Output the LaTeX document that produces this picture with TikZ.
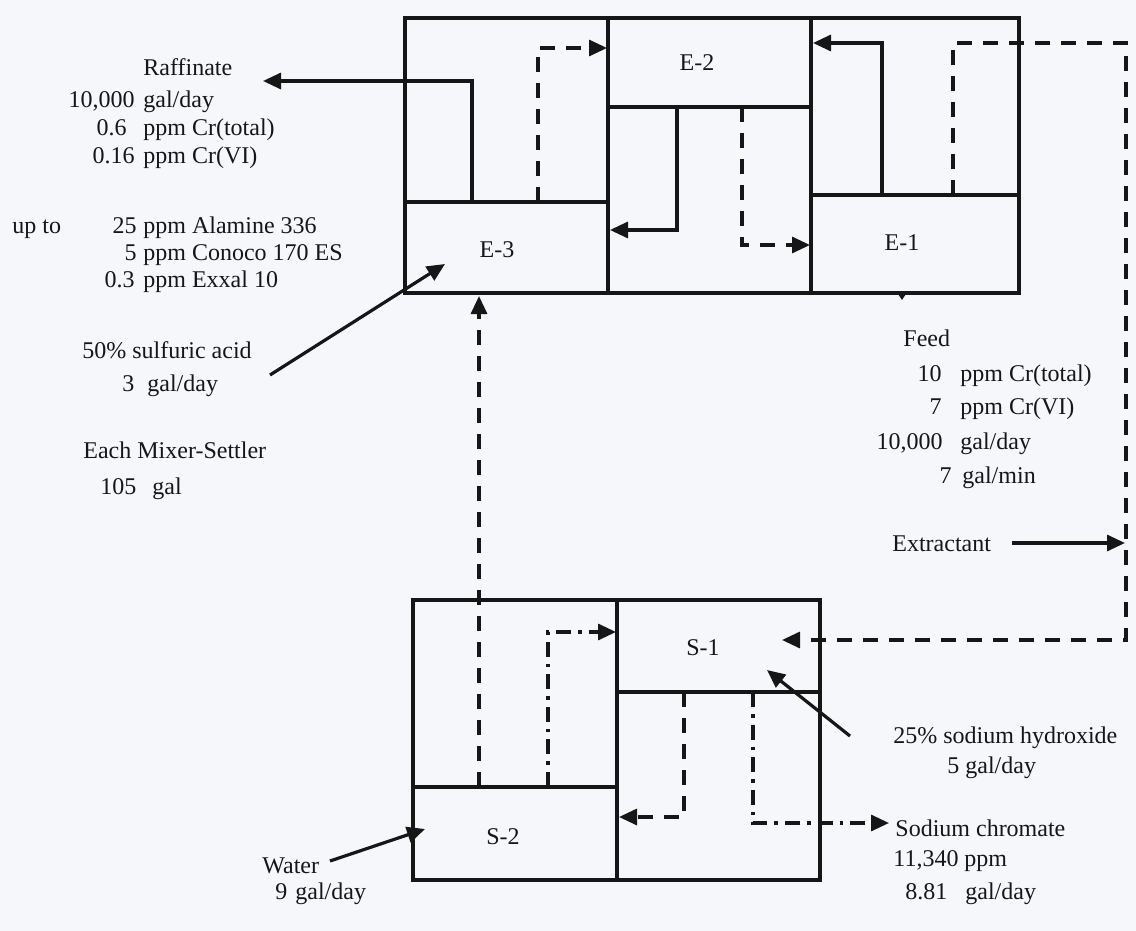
\documentclass[tikz,border=0pt]{standalone}
\usepackage{fontspec}
\setmainfont{Liberation Serif}
\usetikzlibrary{arrows.meta}
\definecolor{bg}{RGB}{245,247,250}
\definecolor{ink}{RGB}{22,22,22}
\begin{document}
\begin{tikzpicture}[x=0.5pt,y=-0.5pt,
  font=\fontsize{12}{14}\selectfont,
  wall/.style={draw=ink, line width=1.7pt},
  flow/.style={draw=ink, line width=1.6pt, -{Triangle[length=9pt,width=8pt]}},
  dflow/.style={flow, dash pattern=on 7.5pt off 5.5pt},
  ddflow/.style={flow, dash pattern=on 7.5pt off 3.5pt on 1.8pt off 3.5pt},
  txt/.style={text=ink, inner sep=0pt},
  lw/.style={txt, anchor=base west},
  le/.style={txt, anchor=base east},
  cell/.style={txt, anchor=center}]
\fill[bg] (0,0) rectangle (1136,931);
\useasboundingbox (0,0) rectangle (1136,931);

% ---------- extraction unit ----------
\draw[wall] (405,18) rectangle (1019,293);
\draw[wall] (608,18) -- (608,293);
\draw[wall] (811,18) -- (811,293);
\draw[wall] (405,202) -- (608,202);
\draw[wall] (608,107) -- (811,107);
\draw[wall] (811,195) -- (1019,195);
\node[cell] (E2) at (697,63) {E-2};
\node[cell] (E3) at (497,250) {E-3};
\node[cell] (E1) at (902,243) {E-1};

% ---------- stripping unit ----------
\draw[wall] (413,600) rectangle (820,880);
\draw[wall] (617,600) -- (617,880);
\draw[wall] (413,787) -- (617,787);
\draw[wall] (617,692) -- (820,692);
\node[cell] (S1) at (703,648) {S-1};
\node[cell] (S2) at (503,837) {S-2};

% ---------- coordinates ----------
\coordinate (raf0) at (472,202);
\coordinate (raf1) at (263,81);
\coordinate (a0) at (538,202);
\coordinate (a1) at (607,48);
\coordinate (b0) at (677,107);
\coordinate (b1) at (610,230);
\coordinate (c0) at (742,107);
\coordinate (c1) at (810,245);
\coordinate (d0) at (882,195);
\coordinate (d1) at (813,43);
\coordinate (e0) at (953,195);
\coordinate (e1) at (1126,43);
\coordinate (e2) at (1126,640);
\coordinate (e3) at (782,640);
\coordinate (f0) at (548,787);
\coordinate (f1) at (616,632);
\coordinate (g0) at (684,692);
\coordinate (g1) at (619,817);
\coordinate (h0) at (753,692);
\coordinate (h1) at (889,823);
\coordinate (v0) at (479,787);
\coordinate (v1) at (479,296);
\coordinate (sa0) at (270,375);
\coordinate (sa1) at (445,264);
\coordinate (na0) at (850,736);
\coordinate (na1) at (767,670);
\coordinate (w0) at (330,861);
\coordinate (w1) at (425,829);
\coordinate (x0) at (1012,543);
\coordinate (x1) at (1125,543);
\coordinate (fd0) at (902,291);
\coordinate (fd1) at (902,300);

% ---------- flows ----------
\draw[flow] (raf0) |- (raf1);
\draw[dflow] (a0) |- (a1);
\draw[flow] (b0) |- (b1);
\draw[dflow] (c0) |- (c1);
\draw[flow] (d0) |- (d1);
\draw[dflow] (e0) |- (e1) -- (e2) -- (e3);
\draw[ddflow] (f0) |- (f1);
\draw[dflow] (g0) |- (g1);
\draw[ddflow] (h0) |- (h1);
\draw[dflow] (v0) -- (v1);
\draw[flow] (sa0) -- (sa1);
\draw[flow] (na0) -- (na1);
\draw[flow] (w0) -- (w1);
\draw[flow] (x0) -- (x1);
\draw[ink, line width=1pt, -{Triangle[length=4pt,width=5pt]}] (fd0) -- (fd1);

% ---------- left texts ----------
\node[lw] (raf) at (143,76) {Raffinate};
\node[le] (raf1n) at (135,108) {10,000};
\node[lw] (raf1u) at (143,108) {gal/day};
\node[le] (raf2n) at (127,136) {0.6};
\node[lw] (raf2u) at (143,136) {ppm Cr(total)};
\node[le] (raf3n) at (135,163) {0.16};
\node[lw] (raf3u) at (143,163) {ppm Cr(VI)};
\node[lw] (upto) at (12,234) {up to};
\node[le] (al1n) at (137,234) {25};
\node[lw] (al1u) at (143,234) {ppm Alamine 336};
\node[le] (al2n) at (137,260) {5};
\node[lw] (al2u) at (143,260) {ppm Conoco 170 ES};
\node[le] (al3n) at (135,287) {0.3};
\node[lw] (al3u) at (143,287) {ppm Exxal 10};
\node[lw] (sul) at (82,358) {50\% sulfuric acid};
\node[lw] (sul1n) at (122,391) {3};
\node[lw] (sul1u) at (147,391) {gal/day};
\node[lw] (each) at (83,458) {Each Mixer-Settler};
\node[lw] (each1n) at (100,494) {105};
\node[lw] (each1u) at (152,494) {gal};

% ---------- right texts ----------
\node[lw] (feed) at (903,346) {Feed};
\node[le] (fd1n) at (942,381) {10};
\node[lw] (fd1u) at (960,381) {ppm Cr(total)};
\node[le] (fd2n) at (942,414) {7};
\node[lw] (fd2u) at (960,414) {ppm Cr(VI)};
\node[le] (fd3n) at (943,449) {10,000};
\node[lw] (fd3u) at (960,449) {gal/day};
\node[le] (fd4n) at (952,483) {7};
\node[lw] (fd4u) at (962,483) {gal/min};
\node[lw] (extr) at (892,551) {Extractant};

% ---------- bottom texts ----------
\node[lw] (naoh) at (893,743) {25\% sodium hydroxide};
\node[lw] (naoh1n) at (947,773) {5};
\node[lw] (naoh1u) at (965,773) {gal/day};
\node[lw] (chrom) at (895,836) {Sodium chromate};
\node[lw] (chrom1) at (893,866) {11,340 ppm};
\node[lw] (chrom2n) at (905,899) {8.81};
\node[lw] (chrom2u) at (965,899) {gal/day};
\node[lw] (water) at (262,873) {Water};
\node[lw] (water1n) at (275,899) {9};
\node[lw] (water1u) at (295,899) {gal/day};
\end{tikzpicture}
\end{document}
